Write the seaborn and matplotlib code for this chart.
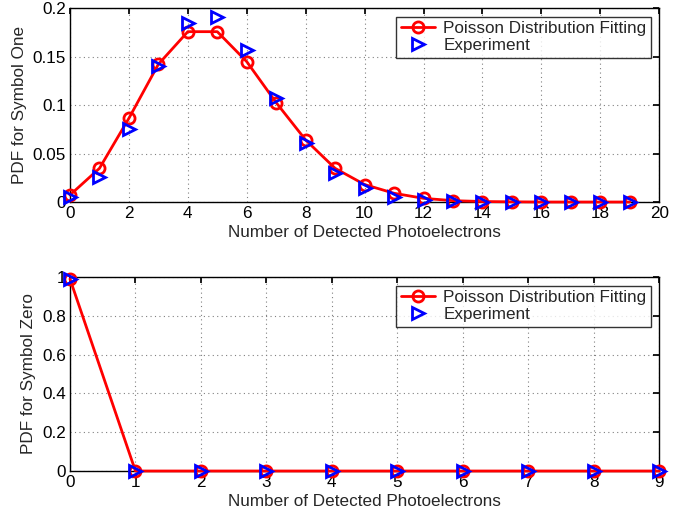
import matplotlib
matplotlib.use("Agg")
import matplotlib.pyplot as plt
import seaborn as sns
import pandas as pd

sns.set_theme(style="white")
plt.rcParams['font.family'] = ['Liberation Sans', 'DejaVu Sans']

# Symbol one data
x_one = list(range(20))
poisson_one = [0.0072, 0.0347, 0.0863, 0.142, 0.1756, 0.1756, 0.1447, 0.1024, 0.0639, 0.0347,
               0.018, 0.009, 0.0038, 0.0014, 0.0005, 0.0002, 0.0, 0.0, 0.0, 0.0]
exp_one = [0.005, 0.026, 0.075, 0.140, 0.185, 0.191, 0.157, 0.107, 0.061, 0.030,
           0.014, 0.0055, 0.002, 0.001, 0.0, 0.0, 0.0, 0.0, 0.0, 0.0]

# Symbol zero data
x_zero = list(range(10))
poisson_zero = [0.99, 0, 0, 0, 0, 0, 0, 0, 0, 0]
exp_zero = [0.99, 0, 0, 0, 0, 0, 0, 0, 0, 0]

xlabel = "Number of Detected Photoelectrons"
labels = ["Poisson Distribution Fitting", "Experiment"]

FS = 12.3

fig = plt.figure(figsize=(6.86, 5.16), dpi=100)
ax1 = fig.add_axes([0.102, 0.6085, 0.859, 0.376])
ax2 = fig.add_axes([0.102, 0.0872, 0.859, 0.376])

def draw(ax, x, p, e, xlim, ylim, xticks, yticks, yticklabels, ylabel):
    df = pd.DataFrame({"x": x, "p": p, "e": e})
    sns.lineplot(data=df, x="x", y="p", ax=ax, color="red", lw=2, marker="o",
                 markersize=8, markerfacecolor="none", markeredgecolor="red",
                 markeredgewidth=2, label=labels[0], zorder=3, clip_on=False)
    sns.lineplot(data=df, x="x", y="e", ax=ax, color="blue", linestyle="", marker=">",
                 markersize=8.5, markerfacecolor="none", markeredgecolor="blue",
                 markeredgewidth=2, label=labels[1], zorder=4, clip_on=False)
    ax.set_xlim(*xlim)
    ax.set_ylim(*ylim)
    ax.set_xticks(xticks)
    ax.set_yticks(yticks)
    ax.set_yticklabels(yticklabels)
    ax.grid(True, linestyle=(0, (1, 3)), color="#808080", lw=0.8)
    ax.tick_params(direction="in", length=4, labelsize=FS, colors="black",
                   top=True, right=True, pad=3)
    for s in ax.spines.values():
        s.set_color("black")
        s.set_linewidth(1)
        s.set_visible(True)
        s.set_zorder(2)
    ax.set_xlabel(xlabel, fontsize=FS, labelpad=3)
    ax.set_ylabel(ylabel, fontsize=FS, labelpad=4)
    leg = ax.legend(loc="upper right", fontsize=FS, frameon=True, fancybox=False,
                    edgecolor="black", borderpad=0.25, handlelength=2.0,
                    handletextpad=0.5, labelspacing=0.15, borderaxespad=0.5)
    leg.get_frame().set_linewidth(1)
    leg.set_zorder(10)

draw(ax1, x_one, poisson_one, exp_one, (0, 20), (0, 0.2), range(0, 21, 2),
     [0, 0.05, 0.1, 0.15, 0.2], ["0", "0.05", "0.1", "0.15", "0.2"], "PDF for Symbol One")
draw(ax2, x_zero, poisson_zero, exp_zero, (0, 9), (0, 1), range(0, 10),
     [0, 0.2, 0.4, 0.6, 0.8, 1], ["0", "0.2", "0.4", "0.6", "0.8", "1"], "PDF for Symbol Zero")

fig.savefig("out.png", dpi=100)
